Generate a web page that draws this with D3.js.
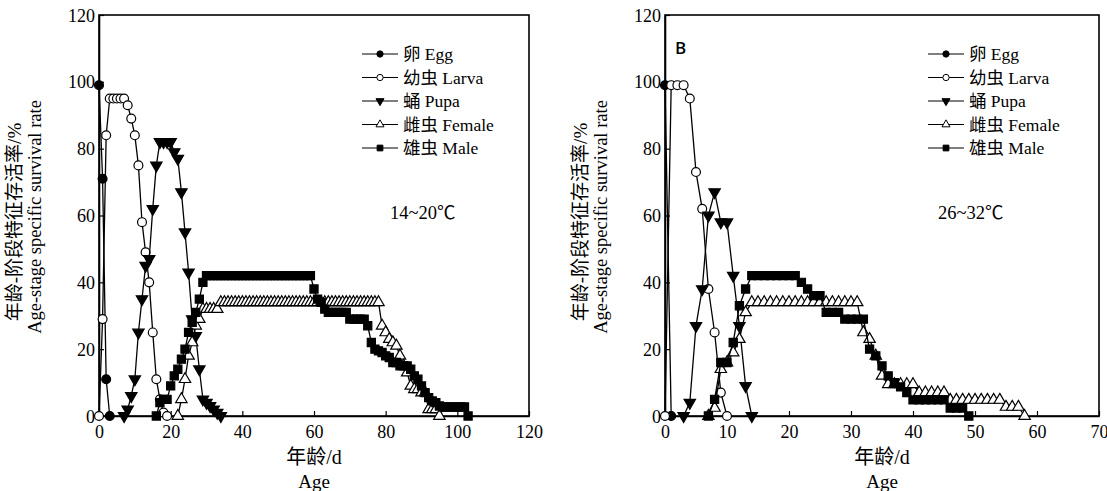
<!DOCTYPE html>
<html>
<head>
<meta charset="utf-8">
<script src="https://cdn.jsdelivr.net/npm/d3@7/dist/d3.min.js"></script>
<style>
  body{margin:0;background:#fff;}
  text{font-family:"Liberation Serif","Times New Roman","Noto Sans CJK SC",serif;fill:#000;}
</style>
</head>
<body>
<div id="svg-container"></div>
<script>
// each series: first age (day) and daily survival rate (%)
let eggL = {start: 0, values: [99, 71, 11, 0]};
let larvaL = {start: 0, values: [0, 29, 84, 95, 95, 95, 95, 95, 93, 89, 84, 75, 58, 49, 40, 25, 11, 5, 1, 0]};
let pupaL = {start: 7, values: [0, 2, 6, 11, 25, 35, 45, 47, 62, 75, 82, 82, 82, 82, 79, 77, 67, 55, 43, 29, 24, 14, 5, 4, 3, 2, 1, 0]};
let femaleL = {start: 22, values: [0, 5, 11, 18, 22, 27, 29, 32, 32, 32, 32, 32,
  34, 34, 34, 34, 34, 34, 34, 34, 34, 34, 34, 34, 34, 34, 34, 34, 34, 34, 34, 34, 34, 34,
  34, 34, 34, 34, 34, 34, 34, 34, 34, 34, 34, 34, 34, 34, 34, 34, 34, 34, 34, 34, 34, 34, 34,
  27, 25, 23, 22, 21, 18, 15, 13, 9, 8, 8, 7, 7, 2, 2, 2, 0]};
let maleL = {start: 16, values: [0, 4, 5, 5, 9, 12, 14, 17, 20, 25, 28, 31, 35, 40,
  42, 42, 42, 42, 42, 42, 42, 42, 42, 42, 42, 42, 42, 42, 42, 42, 42, 42, 42, 42, 42, 42, 42, 42, 42, 42, 42, 42, 42, 42,
  38, 35, 34, 32, 31, 31, 31, 31, 31, 31, 29, 29, 29, 29, 29,
  27, 22, 20, 19.5, 19, 18, 17.5, 16, 16, 15, 15, 15, 14, 12, 11, 9, 7, 5.5, 4.5, 4, 3,
  2.7, 2.7, 2.7, 2.7, 2.7, 2.7, 2.7, 0]};

let eggR = {start: 0, values: [99, 0]};
let larvaR = {start: 0, values: [0, 99, 99, 99, 95, 73, 62, 38, 25, 7, 0]};
let pupaR = {start: 3, values: [0, 4, 27, 38, 60, 67, 58, 58, 42, 27, 9, 0]};
let femaleR = {start: 7, values: [0, 2.4, 14, 16, 19, 23, 31,
  34, 34, 34, 34, 34, 34, 34, 34, 34, 34, 34, 34, 34, 34, 34, 34, 34, 34,
  25, 23, 18, 12, 9.5, 9.5, 9.5, 9.5, 9.5, 7, 7, 7, 7, 7,
  4.8, 4.8, 4.8, 4.8, 4.8, 4.8, 4.8, 4.8, 4.8, 2.7, 2.7, 2.7, 0]};
let maleR = {start: 7, values: [0, 5, 16, 16, 22, 33, 38, 42, 42, 42, 42, 42, 42, 42, 42,
  40, 38, 36, 36, 31, 31, 31, 29, 29, 29, 29, 20, 18, 15, 12, 10, 8.7, 7,
  4.8, 4.8, 4.8, 4.8, 4.8, 4.8, 2.4, 2.4, 2.4, 0]};

let stageNames = ["卵 Egg", "幼虫 Larva", "蛹 Pupa", "雌虫 Female", "雄虫 Male"];
let yTicks = [0, 20, 40, 60, 80, 100, 120];
let xTicksL = [0, 20, 40, 60, 80, 100, 120];
let xTicksR = [0, 10, 20, 30, 40, 50, 60, 70];

let markers = [
  {type: d3.symbolCircle, size: 62, fill: "#000", rot: 0},
  {type: d3.symbolCircle, size: 62, fill: "#fff", rot: 0},
  {type: d3.symbolTriangle, size: 56, fill: "#000", rot: 180},
  {type: d3.symbolTriangle, size: 56, fill: "#fff", rot: 0},
  {type: d3.symbolSquare, size: 66, fill: "#000", rot: 0}
];

let svg = d3.select("#svg-container").append("svg").attr("width", 1107).attr("height", 491);

let panels = [
  {series: [eggL, larvaL, pupaL, femaleL, maleL], xMax: 120, xTicks: xTicksL, left: 99, right: 529, temp: "14~20℃", tempX: 390, label: null},
  {series: [eggR, larvaR, pupaR, femaleR, maleR], xMax: 70, xTicks: xTicksR, left: 665, right: 1099, temp: "26~32℃", tempX: 938, label: "B"}
];

let plotTop = 15, plotBottom = 416;

panels.forEach((p) => {
  let x = d3.scaleLinear().domain([0, p.xMax]).range([p.left, p.right]);
  let y = d3.scaleLinear().domain([0, 120]).range([plotBottom, plotTop]);
  let g = svg.append("g");

  g.append("g").attr("transform", `translate(0,${plotBottom})`)
    .call(d3.axisBottom(x).tickValues(p.xTicks).tickSizeInner(-5).tickSizeOuter(0).tickPadding(9))
    .call(a => a.attr("font-family", null).selectAll("text").attr("font-size", 18));
  g.append("g").attr("transform", `translate(${p.left},0)`)
    .call(d3.axisLeft(y).tickValues(yTicks).tickSizeInner(-5).tickSizeOuter(0).tickPadding(4))
    .call(a => a.attr("font-family", null).selectAll("text").attr("font-size", 18).attr("dy", "0.34em"));
  g.selectAll(".domain").attr("stroke-width", 1.6);
  g.selectAll(".tick line").attr("stroke-width", 1.2);

  g.append("rect").attr("x", p.left).attr("y", plotTop)
    .attr("width", p.right - p.left).attr("height", plotBottom - plotTop)
    .attr("fill", "none").attr("stroke", "#000").attr("stroke-width", 1.6);

  let line = d3.line().x(d => x(d[0])).y(d => y(d[1]));

  p.series.forEach((s, k) => {
    let pts = s.values.map((v, i) => [s.start + i, v]);
    g.append("path").datum(pts).attr("d", line)
      .attr("fill", "none").attr("stroke", "#000").attr("stroke-width", 1.3);
    let m = markers[k];
    g.selectAll(null).data(pts).enter().append("path")
      .attr("d", d3.symbol().type(m.type).size(m.size))
      .attr("transform", d => `translate(${x(d[0])},${y(d[1])}) rotate(${m.rot})`)
      .attr("fill", m.fill).attr("stroke", "#000").attr("stroke-width", 1.2);
  });

  // legend
  let lx = p.left + 263;
  stageNames.forEach((name, k) => {
    let ly = 54 + k * 23.5;
    g.append("line").attr("x1", lx).attr("x2", lx + 36).attr("y1", ly).attr("y2", ly)
      .attr("stroke", "#000").attr("stroke-width", 1.2);
    let m = markers[k];
    g.append("path").attr("d", d3.symbol().type(m.type).size(m.size * 0.5))
      .attr("transform", `translate(${lx + 18},${ly}) rotate(${m.rot})`)
      .attr("fill", m.fill).attr("stroke", "#000").attr("stroke-width", 1);
    g.append("text").attr("x", lx + 41).attr("y", ly + 6).attr("font-size", 17.5).text(name);
  });

  g.append("text").attr("x", p.tempX).attr("y", 219).attr("font-size", 18.5).text(p.temp);
  if (p.label) g.append("text").attr("x", p.left + 10).attr("y", 54).attr("font-size", 17)
    .attr("font-weight", 600).style("font-family", "Open Sans, DejaVu Sans, sans-serif").text(p.label);

  let cx = (p.left + p.right) / 2;
  g.append("text").attr("x", cx).attr("y", 464).attr("text-anchor", "middle").attr("font-size", 20).text("年龄/d");
  g.append("text").attr("x", cx).attr("y", 488).attr("text-anchor", "middle").attr("font-size", 19).text("Age");

  let tx = p.left - 79;
  g.append("text").attr("transform", `translate(${tx + 1},222) rotate(-90)`)
    .attr("text-anchor", "middle").attr("font-size", 19).text("年龄-阶段特征存活率/%");
  g.append("text").attr("transform", `translate(${tx + 21},217) rotate(-90)`)
    .attr("text-anchor", "middle").attr("font-size", 18.5).text("Age-stage specific survival rate");
});
</script>
</body>
</html>
